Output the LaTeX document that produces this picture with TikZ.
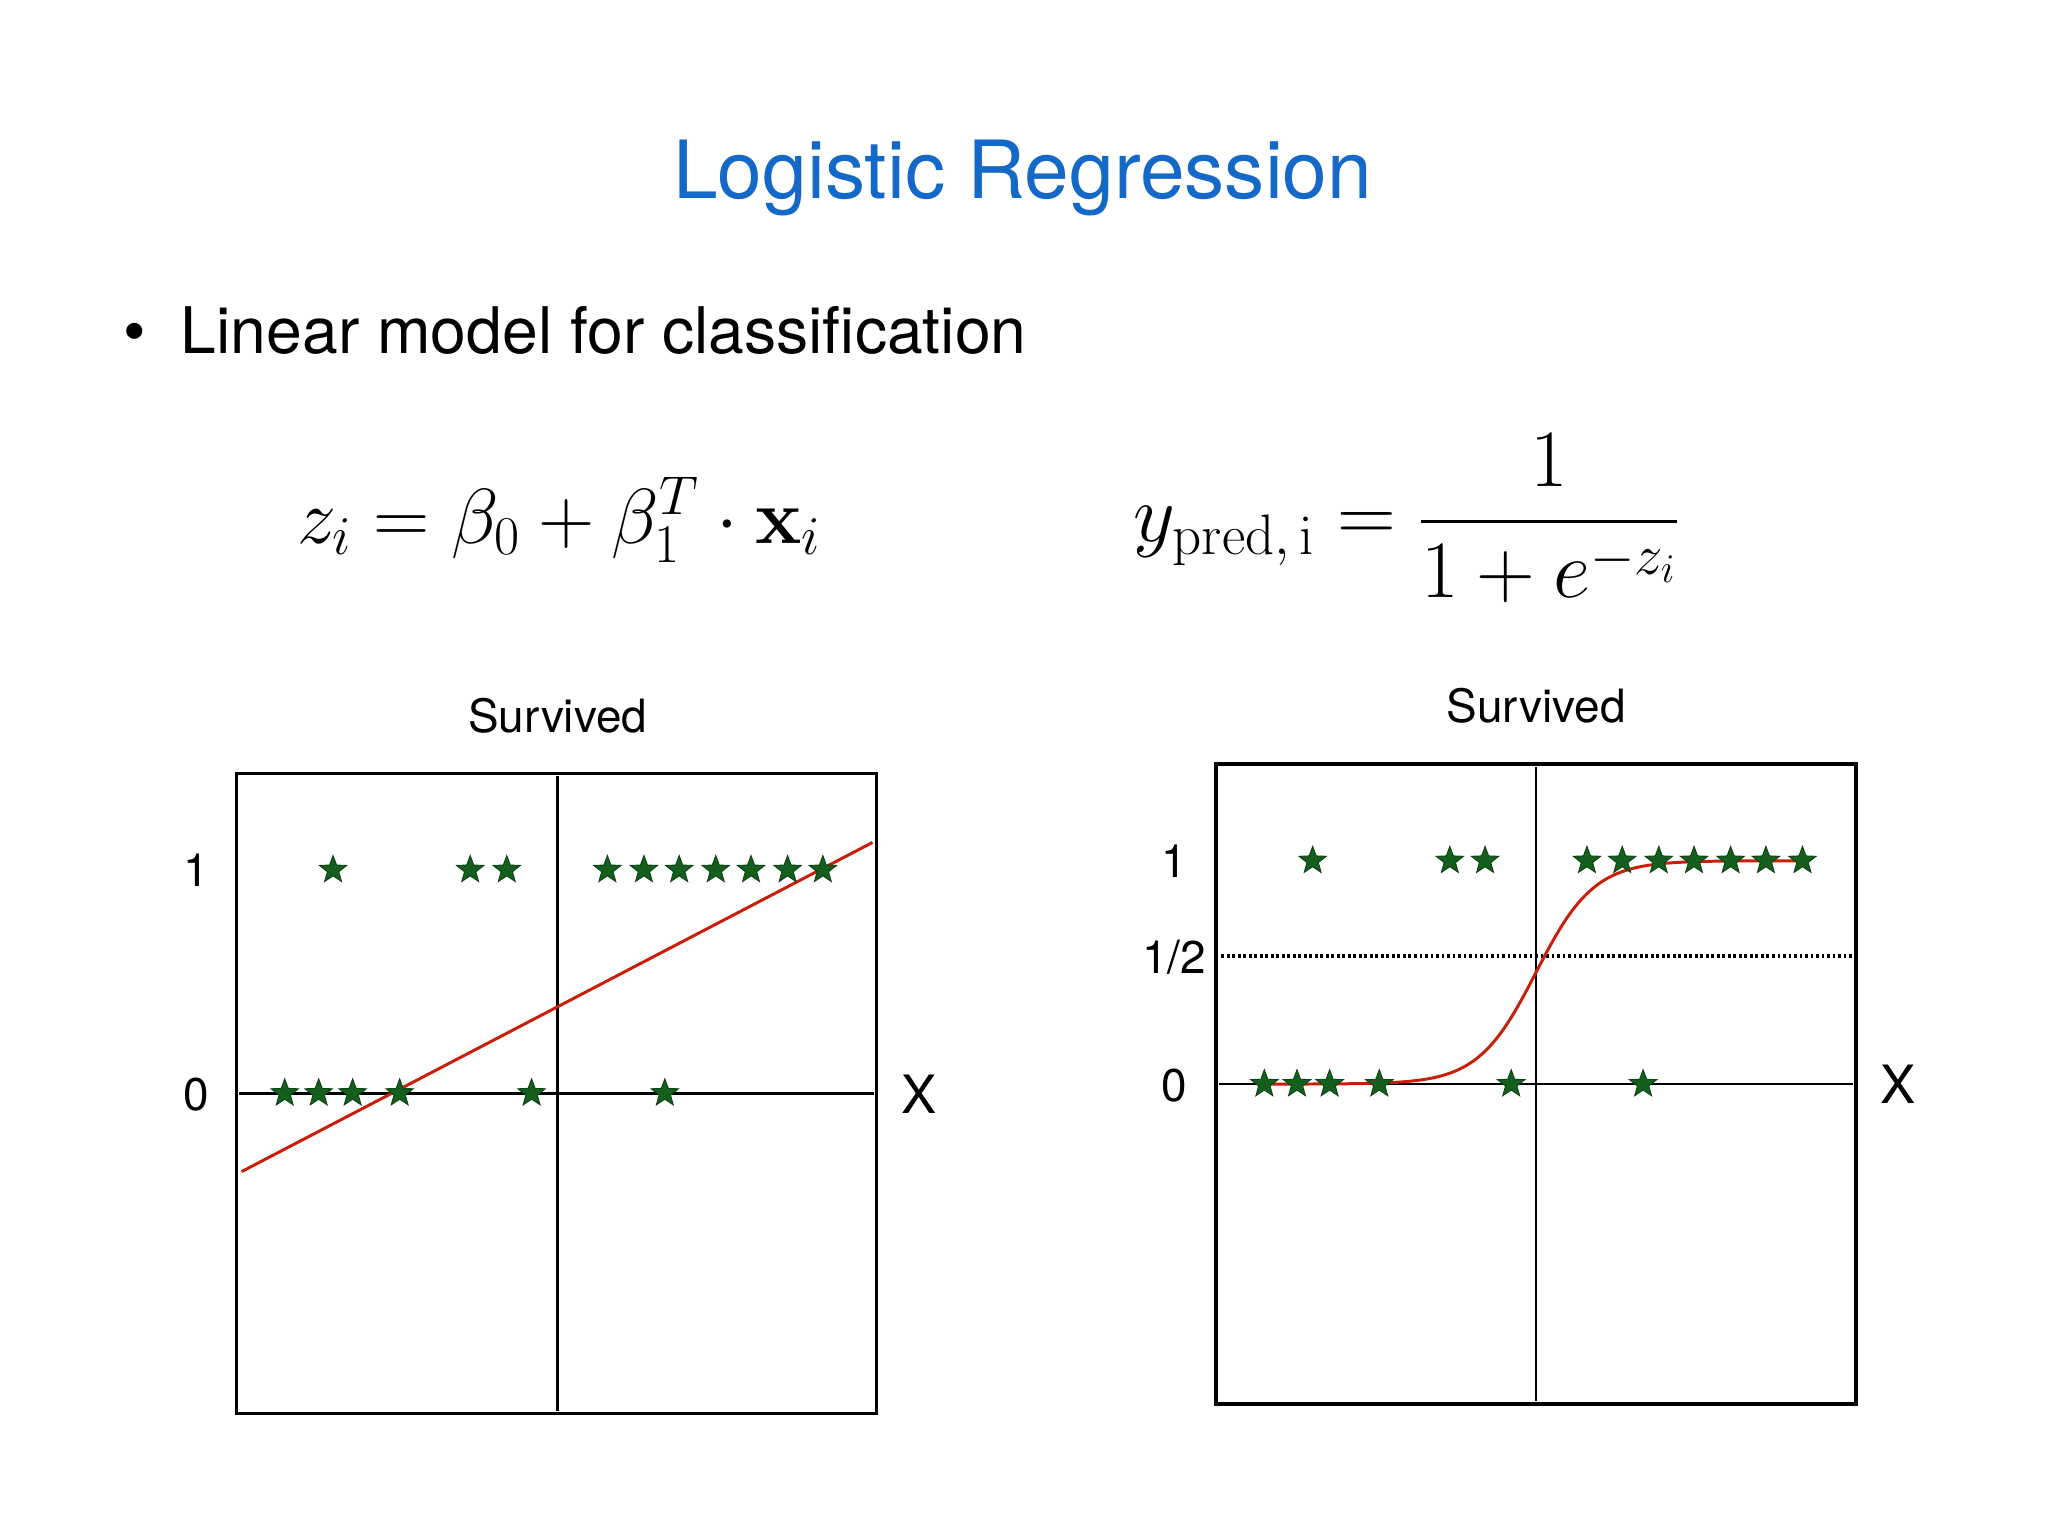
\documentclass[tikz,border=0pt]{standalone}
\usepackage{fix-cm}
\usepackage{amsmath}
\usepackage[no-math]{fontspec}
\setmainfont{TeX Gyre Heros}
\usetikzlibrary{shapes.geometric}
\definecolor{ttl}{RGB}{20,105,200}
\definecolor{stargreen}{RGB}{20,95,30}
\definecolor{fitred}{RGB}{200,30,10}
\tikzset{
  st/.style={star,star points=5,star point ratio=2.4,fill=stargreen,draw=stargreen!70!black,inner sep=0pt,minimum size=22*0.02cm},
  lbl/.style={font=\fontsize{20}{24}\selectfont},
  frame/.style={draw=black,line width=1.4pt},
  ax/.style={draw=black,line width=1.2pt},
  fit/.style={draw=fitred,line width=1.3pt}
}
\begin{document}
\begin{tikzpicture}[x=0.02cm,y=-0.02cm]
\useasboundingbox (0,0) rectangle (1568,1176);
\node[text=ttl,font=\fontsize{35}{40}\selectfont] (title) at (783,136) {Logistic Regression};
\node[anchor=west,font=\fontsize{28}{34}\selectfont] (bullet) at (88,253) {\textbullet\hspace{0.55em}Linear model for classification};
\node (eq1) at (428,398) {\fontsize{34}{40}\selectfont $z_i=\beta_0+\beta_1^T\cdot\mathbf{x}_i$};
\node (eq2) at (1077,397) {\fontsize{35.5}{42}\selectfont $y_{\mathrm{pred,\,i}}=\dfrac{1}{1+e^{-z_i}}$};
% left plot
\node[lbl] (s1) at (427,548) {Survived};
\draw[frame] (181,592) rectangle (671,1082);
\coordinate (la1) at (427,594); \coordinate (la2) at (427,1080);
\coordinate (lh1) at (183,837); \coordinate (lh2) at (669,837);
\draw[ax] (la1) -- (la2); \draw[ax] (lh1) -- (lh2);
\node[lbl] (l1) at (150,666) {1};
\node[lbl] (l0) at (150,838) {0};
\node[lbl,font=\fontsize{23}{26}\selectfont] (lx) at (704,838) {X};
\coordinate (r1) at (185,897); \coordinate (r2) at (668,645);
\draw[fit] (r1) -- (r2);
\foreach \x in {255,360,388,465,493,520,548,575,603,630} \node[st] at (\x,666) {};
\foreach \x in {218,244,270,306,407,509} \node[st] at (\x,837) {};
% right plot
\node[lbl] (s2) at (1176,540) {Survived};
\draw[frame] (931,585) rectangle (1421,1075);
\coordinate (ra1) at (1176,587); \coordinate (ra2) at (1176,1073);
\coordinate (rh1) at (933,830); \coordinate (rh2) at (1419,830);
\draw[ax] (ra1) -- (ra2); \draw[ax] (rh1) -- (rh2);
\coordinate (d1) at (935,732); \coordinate (d2) at (1419,732);
\draw[line width=1.4pt,dash pattern=on 1.2pt off 1.2pt] (d1) -- (d2);
\node[lbl] (r1l) at (899,659) {1};
\node[lbl] (rhl) at (899,733) {1/2};
\node[lbl] (r0l) at (899,831) {0};
\node[lbl,font=\fontsize{23}{26}\selectfont] (rx) at (1453,830) {X};
\draw[fit,domain=968:1380,samples=200,smooth] plot (\x,{830-171/(1+exp(-0.045*(\x-1176)))});
\foreach \x in {1005,1110,1137,1215,1242,1270,1297,1325,1352,1380} \node[st] at (\x,659) {};
\foreach \x in {968,993,1018,1056,1157,1258} \node[st] at (\x,830) {};
\end{tikzpicture}
\end{document}
